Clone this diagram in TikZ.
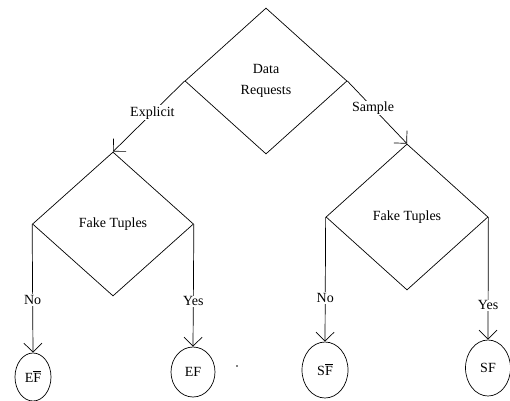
\documentclass[tikz,border=0pt]{standalone}
\usepackage{fontspec}
\setmainfont{Liberation Serif}
\usetikzlibrary{shapes.geometric,arrows.meta}

\tikzset{
    decisione/.style={draw, diamond, minimum width=162pt, minimum height=146pt,
                      inner sep=0pt, align=center},
    foglia/.style={draw, ellipse, inner sep=0pt},
    freccia/.style={-{Straight Barb[length=9pt,width=18pt]}},
    etichetta/.style={fill=white, inner sep=1pt}
}

% F con la barra sopra
\newcommand\Fbar{\rlap{\rule[10.8pt]{7.6pt}{0.6pt}}F}

\begin{document}
\begin{tikzpicture}[x=1pt, y=-1pt, line width=0.7pt,
                    font=\fontsize{14}{21}\selectfont]

    \useasboundingbox (0,0) rectangle (510,400);

    % -- Rombo centrale: richiesta dei dati --
    \node[decisione] (richiesta) at (266,81) {Data\\Requests};

    % -- Rombi di secondo livello --
    \node[decisione, minimum width=161pt, minimum height=144pt] (finti-e) at (113,224) {Fake Tuples};
    \node[decisione] (finti-s) at (407,217) {Fake Tuples};

    % -- Foglie --
    \node[foglia, minimum width=36pt, minimum height=48pt] (ef-no) at (33,377) {E\Fbar};
    \node[foglia, minimum width=44pt, minimum height=50pt] (ef-si) at (193,372) {EF};
    \node[foglia, minimum width=46pt, minimum height=56pt] (sf-no) at (325,370) {S\Fbar};
    \node[foglia, minimum width=45pt, minimum height=56pt] (sf-si) at (488,368) {SF};

    % -- Frecce dal rombo centrale --
    \draw[freccia] (richiesta.west) -- node[etichetta, pos=0.45] {Explicit} (finti-e.north);
    \draw[freccia] (richiesta.east) -- node[etichetta, pos=0.43] {Sample} (finti-s.north);

    % -- Frecce verso le foglie --
    \draw[freccia] (finti-e.west) -- node[etichetta, pos=0.59] {No} (ef-no.north);
    \draw[freccia] (finti-e.east) -- node[etichetta, pos=0.63] {Yes} (ef-si.north);
    \draw[freccia] (finti-s.west) -- node[etichetta, pos=0.65] {No} (sf-no.north);
    \draw[freccia] (finti-s.east) -- node[etichetta, pos=0.72] {Yes} (sf-si.north);

    % puntino isolato
    \fill (237,366) circle (0.8);
\end{tikzpicture}
\end{document}
